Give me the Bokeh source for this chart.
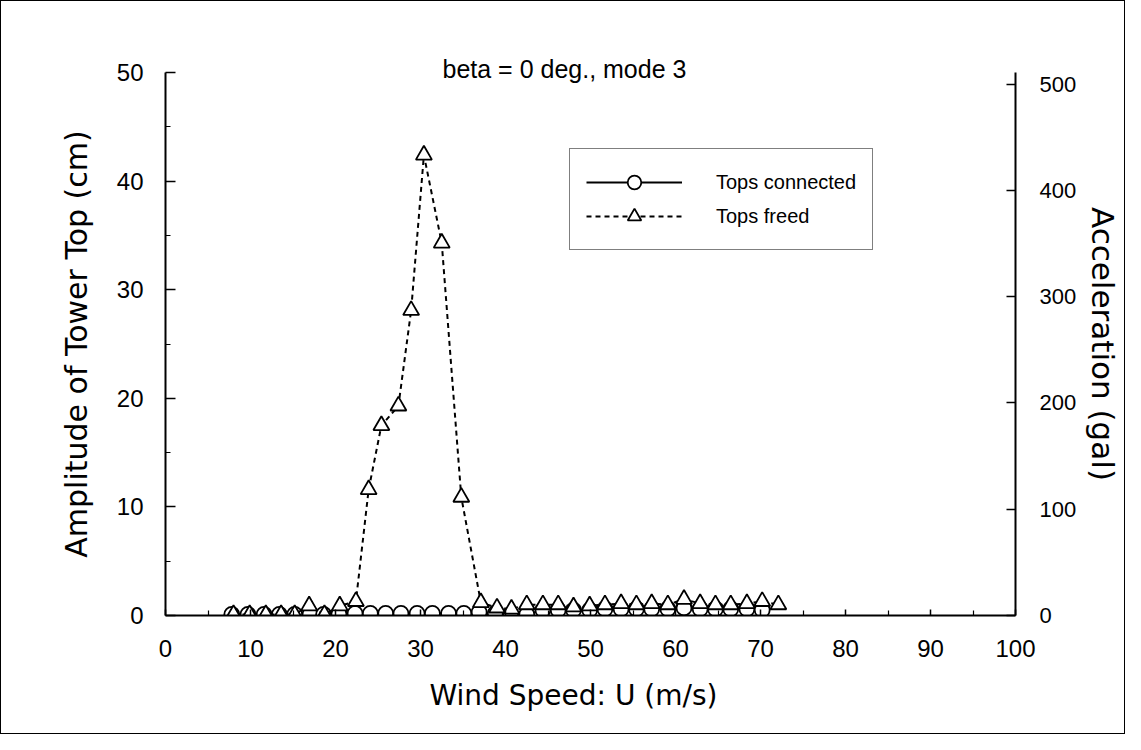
from bokeh.plotting import figure
from bokeh.models import Range1d, LinearAxis, Legend, LegendItem, FixedTicker, Title
from bokeh.embed import file_html
from bokeh.resources import INLINE

# ---- data ----
conn_x = [7.8, 9.7, 11.6, 13.4, 15.2, 17.0, 18.6, 20.4, 22.3, 24.1, 25.9, 27.7, 29.6, 31.4,
          33.3, 35.1, 36.9, 38.8, 40.6, 42.5, 44.4, 46.2, 48.0, 49.9, 51.7, 53.6, 55.4, 57.2,
          59.1, 61.0, 62.9, 64.7, 66.5, 68.4, 70.2]
conn_y = [0.1, 0.1, 0.1, 0.1, 0.1, 0.1, 0.1, 0.15, 0.2, 0.2, 0.2, 0.2, 0.2, 0.2,
          0.2, 0.2, 0.3, 0.2, 0.1, 0.1, 0.5, 0.5, 0.5, 0.5, 0.6, 0.6, 0.6, 0.6,
          0.6, 0.7, 0.6, 0.6, 0.6, 0.6, 0.5]
freed_x = [8.0, 9.9, 11.8, 13.6, 15.2, 16.9, 18.7, 20.5, 22.4, 23.9, 25.4, 27.4, 28.9, 30.4,
           32.5, 34.8, 37.1, 39.0, 40.7, 42.5, 44.4, 46.2, 48.0, 49.9, 51.7, 53.6, 55.4, 57.2,
           59.1, 61.0, 62.9, 64.7, 66.5, 68.4, 70.2, 72.1]
freed_y = [0.1, 0.1, 0.1, 0.1, 0.1, 0.9, 0.1, 0.9, 1.3, 11.6, 17.5, 19.3, 28.1, 42.4,
           34.3, 10.9, 1.2, 0.7, 0.6, 1.0, 1.0, 1.0, 0.8, 0.9, 1.0, 1.1, 1.0, 1.1,
           1.0, 1.5, 1.1, 1.0, 1.0, 1.1, 1.3, 1.0]

x_ticks = [0, 10, 20, 30, 40, 50, 60, 70, 80, 90, 100]
left_ticks = [0, 10, 20, 30, 40, 50]
right_ticks = [0, 100, 200, 300, 400, 500]

title_text = "beta = 0 deg., mode 3"
xlabel_text = "Wind Speed: U (m/s)"
ylabel_left = "Amplitude of Tower Top (cm)"
ylabel_right = "Acceleration (gal)"
series_names = ["Tops connected", "Tops freed"]

FONT = "Liberation Sans"
WIDE = "DejaVu Sans"

p = figure(width=1125, height=734, x_range=Range1d(0, 100), y_range=Range1d(0, 50),
           output_backend="svg", toolbar_location=None,
           min_border_left=164, min_border_right=111, min_border_top=71, min_border_bottom=120)
p.styles = {"border": "1.5px solid black"}
p.outline_line_color = None
p.xgrid.visible = False
p.ygrid.visible = False
p.background_fill_color = "white"
p.border_fill_color = "white"

# title drawn at the top edge of the frame
p.title.text = title_text
p.title.align = "left"
p.title.offset = 277
p.title.standoff = -20
p.title.text_font = FONT
p.title.text_font_size = "25px"
p.title.text_font_style = "normal"
p.title.text_color = "black"

p.extra_y_ranges = {"acc": Range1d(0, 511)}
right_axis = LinearAxis(y_range_name="acc")
p.add_layout(right_axis, "right")

xax = p.xaxis[0]
yax = p.yaxis[0]
xax.ticker = FixedTicker(ticks=x_ticks, minor_ticks=[t + 5 for t in x_ticks[:-1]])
yax.ticker = FixedTicker(ticks=left_ticks, minor_ticks=[t + 5 for t in left_ticks[:-1]])
right_axis.ticker = FixedTicker(ticks=right_ticks, minor_ticks=[])

for ax in (xax, yax, right_axis):
    ax.axis_line_width = 2
    ax.axis_line_color = "black"
    ax.major_tick_line_color = "black"
    ax.minor_tick_line_color = "black"
    ax.major_tick_line_width = 1.5
    ax.minor_tick_line_width = 1.2
    ax.major_tick_out = 0
    ax.minor_tick_out = 0
    ax.major_tick_in = 10
    ax.minor_tick_in = 5
    ax.major_label_text_font = FONT
    ax.major_label_text_color = "black"
    ax.major_label_text_font_size = "24px"
    ax.major_label_standoff = 22

xax.major_tick_in = 6
xax.minor_tick_in = 5
xax.major_label_standoff = 24
right_axis.major_tick_in = 9
right_axis.major_label_text_font_size = "22px"
right_axis.major_label_standoff = 24

yax.axis_label = ylabel_left
yax.axis_label_text_font = WIDE
yax.axis_label_text_font_style = "normal"
yax.axis_label_text_font_size = "30px"
yax.axis_label_text_color = "black"
yax.axis_label_standoff = 20

right_axis.axis_label = ylabel_right
right_axis.axis_label_text_font = WIDE
right_axis.axis_label_text_font_style = "normal"
right_axis.axis_label_text_font_size = "31px"
right_axis.axis_label_text_color = "black"
right_axis.axis_label_standoff = 6

# x axis label as a title below the axis (allows horizontal offset)
xtitle = Title(text=xlabel_text, align="left", offset=264, standoff=35,
               text_font=WIDE, text_font_size="28px", text_font_style="normal",
               text_color="black")
p.add_layout(xtitle, "below")

# ---- data series ----
r1l = p.line(conn_x, conn_y, line_color="black", line_width=2)
r1m = p.scatter(conn_x, conn_y, marker="circle", size=15, fill_color="white",
                line_color="black", line_width=1.8)
r2l = p.line(freed_x, freed_y, line_color="black", line_width=2, line_dash="5 4")
r2m = p.scatter(freed_x, freed_y, marker="triangle", size=16, fill_color="white",
                line_color="black", line_width=1.8)

legend = Legend(items=[LegendItem(label=series_names[0], renderers=[r1l, r1m]),
                       LegendItem(label=series_names[1], renderers=[r2l, r2m])],
                location=(404, 365), orientation="vertical")
legend.glyph_width = 96
legend.glyph_height = 34
legend.label_height = 34
legend.spacing = 0
legend.padding = 16
legend.margin = 0
legend.label_standoff = 34
legend.label_text_font = FONT
legend.label_text_font_size = "20px"
legend.label_text_color = "black"
legend.border_line_color = "black"
legend.border_line_width = 1.5
legend.background_fill_color = "white"
legend.background_fill_alpha = 1
p.add_layout(legend)

open("out.html", "w").write(file_html(p, INLINE))
